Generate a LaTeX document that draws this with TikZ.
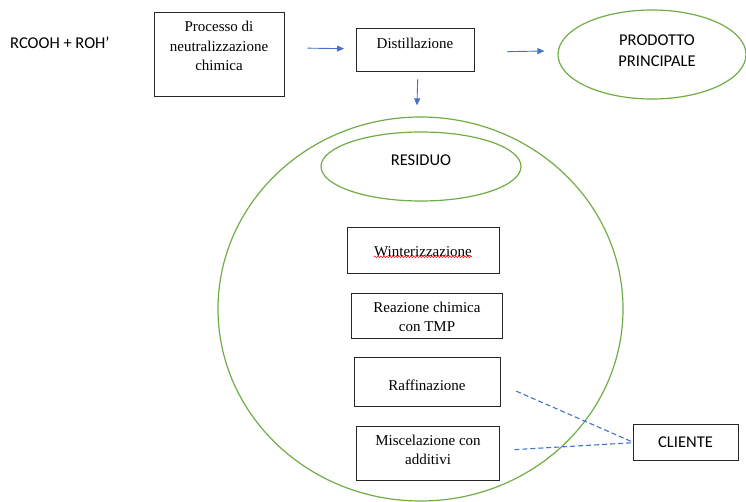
\documentclass[tikz,border=0pt]{standalone}
\usepackage{fontspec}
\setmainfont{Liberation Serif}
\newfontfamily\calib{Carlito}
\usetikzlibrary{arrows.meta,decorations.pathmorphing,shapes.geometric}
\definecolor{arrblue}{HTML}{4472C4}
\definecolor{ringgreen}{HTML}{70AD47}
\tikzset{
  box/.style={draw=black!85, line width=1.3pt, anchor=north west, inner sep=0pt},
  serift/.style={font=\fontsize{15}{19.5}\selectfont, align=center, inner sep=0pt},
  sanst/.style={font=\calib\fontsize{16.5}{21}\selectfont, align=center, inner sep=0pt},
  ring/.style={draw=ringgreen, line width=1.2pt, ellipse, inner sep=0pt},
  arr/.style={draw=arrblue, line width=0.9pt, -{Triangle[length=7pt,width=6pt]}},
  dashline/.style={draw=arrblue, line width=1.1pt, dash pattern=on 5pt off 3pt},
}
\begin{document}
\begin{tikzpicture}[x=1pt,y=-1pt]
\useasboundingbox (0,0) rectangle (746,502);
% formula
\node[sanst, anchor=west] (f) at (10,43) {RCOOH + ROH’};
% process box
\node[box, minimum width=130pt, minimum height=84pt] (p) at (154,12) {};
\node[serift] (pt) at (219,46) {Processo di\\neutralizzazione\\chimica};
% distillation box
\node[box, minimum width=118pt, minimum height=43pt] (d) at (356,28) {};
\node[serift] (dt) at (415,43) {Distillazione};
% main product ellipse
\node[ring, minimum width=188pt, minimum height=89pt] (pp) at (652,54.5) {};
\node[sanst] (ppt) at (657,51) {PRODOTTO\\PRINCIPALE};
% big circle
\node[ring, minimum width=405pt, minimum height=384pt] (c) at (420.5,309) {};
% residuo ellipse
\node[ring, minimum width=200pt, minimum height=69pt] (re) at (421,166.5) {};
\node[sanst] (ret) at (421,160) {RESIDUO};
% inner boxes
\node[box, minimum width=152pt, minimum height=46pt] (w) at (347,227) {};
\node[serift] (wt) at (423,252) {Winterizzazione};
\draw[red, line width=0.5pt, decorate, decoration={snake, segment length=3pt, amplitude=0.8pt}] ([yshift=0.5pt]wt.south west) -- ([yshift=0.5pt]wt.south east);
\node[box, minimum width=151pt, minimum height=45pt] (rc) at (351,293) {};
\node[serift] (rct) at (427,317) {Reazione chimica\\con TMP};
\node[box, minimum width=146pt, minimum height=49pt] (rf) at (354,357) {};
\node[serift] (rft) at (427,385) {Raffinazione};
\node[box, minimum width=143pt, minimum height=54pt] (m) at (356,426) {};
\node[serift] (mt) at (428,450) {Miscelazione con\\additivi};
% cliente
\node[box, minimum width=105pt, minimum height=36pt] (cl) at (633,424) {};
\node[sanst] (clt) at (685.5,442) {CLIENTE};
% arrows
\draw[arr] ([xshift=22pt,yshift=6.5pt]p.east) -- ([xshift=-12pt,yshift=1.5pt]d.west);
\draw[arr] ([xshift=32pt,yshift=-1.5pt]d.east) -- ([xshift=-13pt,yshift=3.5pt]pp.west);
\draw[arr] ([xshift=2pt,yshift=-7pt]d.south) -- ([xshift=-3.5pt,yshift=11pt]c.north);
% dashed
\draw[dashline] ([xshift=15pt,yshift=-9pt]rf.east) -- ([xshift=1pt]cl.west);
\draw[dashline] ([xshift=14pt,yshift=4pt]m.east) -- ([xshift=1pt]cl.west);
\end{tikzpicture}
\end{document}
